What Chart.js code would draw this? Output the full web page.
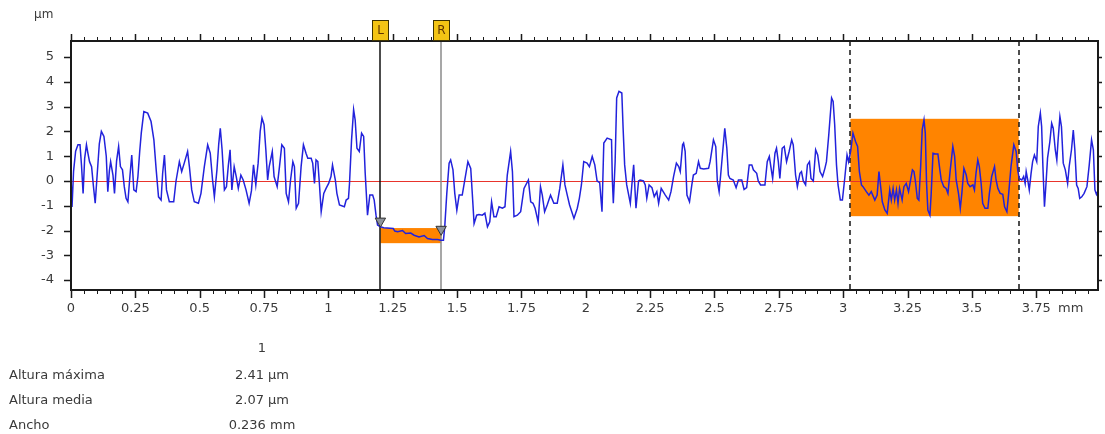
<!DOCTYPE html>
<html><head><meta charset="utf-8">
<script src="https://cdn.jsdelivr.net/npm/chart.js"></script>
<style>
html,body{margin:0;padding:0;background:#fff;}
#wrap{position:relative;width:1105px;height:434px;overflow:hidden;font-family:'DejaVu Sans',sans-serif;color:#3a3a3a;}
canvas{position:absolute;left:0;top:0;}
.t{position:absolute;font-size:13px;line-height:16px;white-space:nowrap;}
.c{text-align:center;width:100px;}
</style></head><body>
<div id="wrap">
<canvas id="c" width="1105" height="434"></canvas>
<div class="t" style="left:34px;top:6px;font-size:12px">µm</div>
<div class="t" id="unitX" style="left:1058px;top:300px;">mm</div>
<div id="tbl"></div>
</div>
<script>
// ---- data (x in mm, height in µm) ----
const profilePoints = [
[0.000,0.20],[0.004,-1.05],[0.010,0.40],[0.018,1.20],[0.027,1.46],[0.035,1.46],[0.041,0.60],[0.047,-0.50],[0.053,0.90],[0.060,1.46],[0.066,1.10],[0.072,0.78],[0.080,0.58],[0.087,-0.20],[0.094,-0.90],[0.102,0.30],[0.110,1.50],[0.118,2.00],[0.128,1.80],[0.137,1.00],[0.143,-0.43],[0.149,0.40],[0.154,0.78],[0.163,0.24],[0.169,-0.50],[0.177,0.80],[0.185,1.39],[0.192,0.58],[0.200,0.45],[0.207,-0.23],[0.214,-0.70],[0.221,-0.84],[0.229,0.20],[0.236,1.05],[0.244,-0.36],[0.253,-0.43],[0.260,0.18],[0.267,1.20],[0.273,1.93],[0.283,2.80],[0.298,2.74],[0.311,2.40],[0.322,1.66],[0.331,0.45],[0.340,-0.64],[0.350,-0.77],[0.356,0.30],[0.363,1.05],[0.371,-0.36],[0.382,-0.84],[0.399,-0.84],[0.408,0.00],[0.421,0.78],[0.430,0.38],[0.440,0.72],[0.453,1.19],[0.460,0.58],[0.469,-0.36],[0.479,-0.84],[0.495,-0.90],[0.505,-0.50],[0.518,0.58],[0.531,1.46],[0.541,1.12],[0.550,0.04],[0.557,-0.64],[0.567,0.45],[0.574,1.50],[0.580,2.13],[0.587,1.26],[0.596,-0.36],[0.604,-0.23],[0.611,0.60],[0.618,1.26],[0.625,-0.36],[0.634,0.58],[0.642,0.18],[0.650,-0.30],[0.660,0.24],[0.669,0.04],[0.680,-0.36],[0.692,-0.90],[0.701,-0.40],[0.709,0.65],[0.718,-0.16],[0.727,0.72],[0.735,2.00],[0.742,2.54],[0.750,2.27],[0.757,1.26],[0.764,0.04],[0.770,0.58],[0.782,1.19],[0.789,0.18],
[0.801,-0.23],[0.810,0.58],[0.819,1.46],[0.829,1.32],[0.836,-0.50],[0.845,-0.84],[0.853,0.04],[0.862,0.78],[0.868,0.58],[0.875,-1.10],[0.884,-0.90],[0.894,0.58],[0.903,1.46],[0.913,1.12],[0.920,0.92],[0.933,0.92],[0.939,0.72],[0.946,-0.10],[0.952,0.85],[0.959,0.78],[0.965,-0.10],[0.972,-1.24],[0.982,-0.50],[0.991,-0.30],[1.001,-0.10],[1.010,0.18],[1.016,0.65],[1.027,0.04],[1.033,-0.50],[1.043,-0.97],[1.062,-1.04],[1.069,-0.77],[1.078,-0.70],[1.082,-0.10],[1.090,1.66],[1.098,2.88],[1.104,2.47],[1.111,1.32],[1.120,1.19],[1.129,1.93],[1.137,1.80],[1.143,0.31],[1.152,-1.38],[1.161,-0.57],[1.172,-0.57],[1.178,-0.77],[1.185,-1.38],[1.191,-1.78],[1.202,-1.85],
[1.215,-1.89],[1.252,-1.92],[1.258,-2.02],[1.269,-2.05],[1.288,-2.00],[1.300,-2.12],[1.320,-2.10],[1.333,-2.19],[1.352,-2.26],[1.372,-2.20],[1.385,-2.32],[1.404,-2.36],[1.424,-2.36],[1.437,-2.39],[1.447,-2.39],[1.452,-1.85],[1.460,-0.50],[1.469,0.72],[1.475,0.85],[1.484,0.45],[1.491,-0.50],[1.499,-1.18],[1.508,-0.57],[1.520,-0.57],[1.530,0.04],[1.542,0.78],[1.553,0.51],[1.559,-0.50],[1.566,-1.72],[1.576,-1.38],[1.585,-1.35],
[1.598,-1.38],[1.608,-1.30],[1.618,-1.85],[1.627,-1.65],[1.634,-0.84],[1.643,-1.44],[1.652,-1.44],[1.663,-1.04],[1.676,-1.10],[1.686,-1.04],[1.695,0.24],[1.708,1.19],[1.715,0.38],[1.721,-1.44],[1.734,-1.38],[1.747,-1.24],[1.760,-0.30],[1.777,0.04],[1.786,-0.84],[1.795,-0.90],[1.803,-1.10],[1.815,-1.65],[1.824,-0.23],[1.831,-0.57],[1.840,-1.24],[1.850,-0.97],[1.863,-0.57],[1.876,-0.90],[1.889,-0.90],[1.899,-0.30],[1.911,0.65],[1.919,-0.16],[1.928,-0.57],[1.937,-0.97],[1.954,-1.51],[1.967,-1.10],[1.975,-0.70],[1.983,-0.16],[1.992,0.78],[2.005,0.72],[2.014,0.58],[2.025,0.99],[2.035,0.65],[2.044,0.00],[2.054,-0.07],[2.063,-1.24],[2.070,1.53],[2.083,1.73],[2.100,1.66],[2.103,0.10],[2.107,-0.90],[2.114,0.78],[2.120,3.35],[2.129,3.62],[2.140,3.55],[2.145,2.13],[2.151,0.65],[2.159,-0.16],[2.173,-0.90],[2.179,-0.16],[2.186,0.65],[2.195,-1.10],[2.205,0.00],[2.211,0.04],[2.224,0.00],[2.231,-0.16],[2.237,-0.70],[2.246,-0.16],[2.257,-0.27],[2.266,-0.63],[2.276,-0.43],[2.283,-0.90],[2.293,-0.30],[2.309,-0.57],[2.322,-0.77],[2.331,-0.43],[2.341,0.18],[2.352,0.72],[2.361,0.58],[2.367,0.38],[2.376,1.46],[2.380,1.53],[2.386,1.20],
[2.393,-0.57],[2.403,-0.84],[2.412,-0.16],[2.418,0.24],[2.429,0.31],[2.438,0.78],[2.445,0.51],[2.458,0.48],[2.477,0.51],[2.483,0.78],[2.496,1.66],[2.505,1.39],[2.511,0.00],[2.518,-0.43],[2.524,0.24],[2.532,1.19],[2.540,2.13],[2.548,1.32],[2.554,0.24],[2.560,0.10],[2.573,0.04],[2.584,-0.27],[2.593,0.04],[2.606,0.04],[2.615,-0.34],[2.625,-0.27],[2.635,0.65],[2.645,0.65],[2.651,0.45],[2.664,0.31],[2.670,0.00],[2.679,-0.16],[2.696,-0.16],[2.705,0.78],[2.713,0.99],[2.720,0.51],[2.726,0.10],[2.735,1.12],[2.741,1.32],[2.748,0.78],[2.754,0.10],[2.763,1.32],[2.771,1.39],[2.780,0.78],[2.790,1.19],[2.800,1.66],[2.806,1.46],[2.815,0.24],[2.822,-0.23],[2.832,0.31],[2.838,0.38],[2.845,0.00],[2.854,-0.16],[2.861,0.65],[2.869,0.78],[2.875,0.10],[2.884,0.00],[2.893,1.26],[2.901,1.05],[2.910,0.38],[2.920,0.18],[2.929,0.51],[2.935,0.78],[2.944,1.86],[2.955,3.35],[2.961,3.21],[2.967,2.27],[2.974,0.65],[2.980,-0.16],[2.989,-0.77],[2.997,-0.77],[3.006,0.10],[3.015,1.05],[3.021,0.78],[3.029,1.19],[3.038,1.93],[3.048,1.59],[3.056,1.39],[3.063,0.38],[3.071,-0.16],[3.077,-0.23],[3.090,-0.43],[3.100,-0.57],[3.109,-0.43],[3.123,-0.77],[3.132,-0.57],[3.139,0.38],[3.146,-0.27],[3.152,-0.84],[3.162,-1.17],[3.171,-1.31],
[3.181,-0.36],[3.187,-0.77],[3.194,-0.30],[3.200,-0.77],[3.207,-0.36],[3.213,-0.90],[3.219,-0.30],[3.229,-0.77],[3.236,-0.23],[3.245,-0.10],[3.254,-0.43],[3.262,0.04],[3.269,0.45],[3.275,0.38],[3.280,0.04],[3.288,-0.70],[3.294,-0.77],[3.301,0.58],[3.307,2.06],[3.314,2.47],[3.319,1.93],[3.324,-0.10],[3.329,-1.17],[3.337,-1.38],[3.342,-0.50],[3.349,1.12],[3.358,1.09],[3.368,1.09],[3.374,0.58],[3.381,0.04],[3.391,-0.23],[3.400,-0.30],[3.407,-0.50],[3.416,0.45],[3.426,1.39],[3.433,0.99],[3.439,0.04],[3.448,-0.50],[3.455,-1.10],[3.461,-0.50],[3.469,0.51],[3.478,0.24],[3.484,-0.10],[3.493,-0.23],[3.504,-0.16],[3.510,-0.36],[3.516,0.31],[3.523,0.85],[3.529,0.58],[3.536,-0.10],[3.542,-0.90],[3.551,-1.10],[3.562,-1.10],[3.568,-0.50],[3.577,0.18],[3.588,0.58],[3.594,0.04],[3.601,-0.30],[3.610,-0.50],[3.620,-0.54],[3.627,-1.04],[3.636,-1.24],[3.643,-0.50],[3.652,0.58],[3.663,1.46],[3.672,1.19],[3.678,0.45],[3.684,0.10],[3.694,0.04],[3.701,0.18],[3.707,-0.10],[3.711,0.38],[3.717,0.04],[3.723,-0.36],[3.730,0.31],[3.736,0.78],[3.743,1.05],[3.752,0.78],[3.758,2.20],[3.766,2.74],[3.771,2.20],[3.776,0.58],[3.782,-1.04],[3.788,-0.10],[3.794,0.92],[3.803,1.59],[3.810,2.33],[3.816,2.13],[3.824,1.26],[3.830,0.85],[3.835,1.66],[3.842,2.60],[3.848,2.20],[3.855,0.72],[3.863,0.45],[3.872,-0.10],[3.878,0.58],[3.887,1.26],[3.894,2.06],[3.900,1.26],[3.907,-0.16],[3.913,-0.30],[3.919,-0.70],[3.927,-0.64],[3.936,-0.50],[3.947,-0.23],[3.956,0.65],[3.965,1.66],[3.972,1.26],[3.978,-0.36],[3.984,-0.54],[3.990,-0.40]
];
const xTickValues = [0,0.25,0.5,0.75,1,1.25,1.5,1.75,2,2.25,2.5,2.75,3,3.25,3.5,3.75];
const xTickLabels = ['0','0.25','0.5','0.75','1','1.25','1.5','1.75','2','2.25','2.5','2.75','3','3.25','3.5','3.75'];
const yTickValues = [-4,-3,-2,-1,0,1,2,3,4,5];
const yTickLabels = ['-4','-3','-2','-1','0','1','2','3','4','5'];
const xRange = [0, 3.99];
const yRange = [-4.4, 5.65];
const cursorL = 1.202, cursorR = 1.438;
const markerPoints = [[1.202,-1.62],[1.438,-1.95]];
const stepBoxX = [1.202, 1.438], stepBoxY = [-2.51, -1.90];
const bandX = [3.028, 3.682], bandY = [-1.42, 2.51];
const tableHeader = '1';
const tableRows = ['Altura máxima','Altura media','Ancho'];
const tableValues = ['2.41 µm','2.07 µm','0.236 mm'];

// ---- table text ----
const tbl = document.getElementById('tbl');
function addText(txt, cls, left, top){ const d=document.createElement('div'); d.className='t '+cls; d.style.left=left+'px'; d.style.top=top+'px'; d.textContent=txt; tbl.appendChild(d); }
addText(tableHeader,'c',212,340);
tableRows.forEach((r,i)=>{ addText(r,'',9,367+i*25); addText(tableValues[i],'c',212,367+i*25); });

const FONT = "'DejaVu Sans', sans-serif";
const decor = {
  id:'decor',
  beforeDatasetsDraw(chart){
    const {ctx, chartArea:a, scales:{x,y}} = chart;
    ctx.save();
    ctx.fillStyle = '#ff8400';
    [[stepBoxX,stepBoxY],[bandX,bandY]].forEach(([bx,by])=>{
      const x0=x.getPixelForValue(bx[0]), x1=x.getPixelForValue(bx[1]);
      const y0=y.getPixelForValue(by[1]), y1=y.getPixelForValue(by[0]);
      ctx.fillRect(x0,y0,x1-x0,y1-y0);
    });
    const z = Math.round(y.getPixelForValue(0))+0.5;
    ctx.strokeStyle='#e8342c'; ctx.lineWidth=1;
    ctx.beginPath(); ctx.moveTo(a.left,z); ctx.lineTo(a.right,z); ctx.stroke();
    ctx.setLineDash([5,4]); ctx.strokeStyle='#151515'; ctx.lineWidth=1.5;
    bandX.forEach(v=>{ const px=Math.round(x.getPixelForValue(v)); ctx.beginPath(); ctx.moveTo(px,a.top); ctx.lineTo(px,a.bottom); ctx.stroke(); });
    ctx.setLineDash([]);
    [[cursorL,'#111111'],[cursorR,'#8a8a8a']].forEach(([v,c])=>{ const px=Math.round(x.getPixelForValue(v)); ctx.strokeStyle=c; ctx.lineWidth=1.5; ctx.beginPath(); ctx.moveTo(px,a.top); ctx.lineTo(px,a.bottom); ctx.stroke(); });
    ctx.restore();
  },
  afterDraw(chart){
    const {ctx, chartArea:a, scales:{x,y}} = chart;
    ctx.save();
    ctx.strokeStyle='#1a1a1a'; ctx.lineWidth=2;
    ctx.strokeRect(a.left,a.top,a.right-a.left,a.bottom-a.top);
    for(let i=0;i<80;i++){
      const v=i*0.05, major=(i%5===0);
      const px=Math.round(x.getPixelForValue(v))+0.5;
      ctx.lineWidth = major?1.5:1;
      ctx.beginPath();
      ctx.moveTo(px,a.top); ctx.lineTo(px,a.top-(major?7:4));
      ctx.moveTo(px,a.bottom); ctx.lineTo(px,a.bottom+(major?8:4));
      ctx.stroke();
    }
    ctx.lineWidth=1.5;
    yTickValues.forEach(v=>{ const py=Math.round(y.getPixelForValue(v))+0.5; ctx.beginPath(); ctx.moveTo(a.left,py); ctx.lineTo(a.left-7,py); ctx.moveTo(a.right,py); ctx.lineTo(a.right+4,py); ctx.stroke(); });
    [['L',cursorL],['R',cursorR]].forEach(([lab,v])=>{
      const px=Math.round(x.getPixelForValue(v));
      ctx.fillStyle='#f3c414'; ctx.fillRect(px-8,a.top-21,17,21);
      ctx.strokeStyle='#3d3200'; ctx.lineWidth=1; ctx.strokeRect(px-7.5,a.top-20.5,16,20);
      ctx.fillStyle='#5e3400'; ctx.font='12px '+FONT; ctx.textAlign='center'; ctx.textBaseline='middle';
      ctx.fillText(lab,px+0.5,a.top-10);
    });
    ctx.restore();
  }
};

Chart.defaults.font.family = FONT;
new Chart(document.getElementById('c'), {
  type:'scatter',
  data:{ datasets:[
    { data: markerPoints.map(p=>({x:p[0],y:p[1]})), pointStyle:'triangle', rotation:180, pointRadius:6, backgroundColor:'#8e939b', borderColor:'#333', borderWidth:1, showLine:false },
    { data: profilePoints.map(p=>({x:p[0],y:p[1]})), showLine:true, borderColor:'#2222dc', borderWidth:1.5, pointRadius:0, tension:0, fill:false }
  ]},
  options:{
    responsive:false, animation:false, devicePixelRatio:1,
    layout:{ padding:{ top:41, right:3, left:0, bottom:0 } },
    plugins:{ legend:{display:false}, tooltip:{enabled:false} },
    scales:{
      x:{ type:'linear', min:xRange[0], max:xRange[1],
          grid:{display:false, drawTicks:false}, border:{display:false},
          afterBuildTicks:s=>{ s.ticks = xTickValues.map(v=>({value:v})); },
          afterFit:s=>{ s.height = 144; s.paddingLeft = 0; s.paddingRight = 0; },
          ticks:{ autoSkip:false, maxRotation:0, padding:11, color:'#3a3a3a', font:{size:13},
                  callback:(v)=>{ const i=xTickValues.indexOf(v); return i>=0?xTickLabels[i]:''; } } },
      y:{ type:'linear', min:yRange[0], max:yRange[1],
          grid:{display:false, drawTicks:false}, border:{display:false},
          afterBuildTicks:s=>{ s.ticks = yTickValues.map(v=>({value:v})); },
          afterFit:s=>{ s.width = 71; s.paddingTop = 0; s.paddingBottom = 0; },
          ticks:{ autoSkip:false, padding:17, color:'#3a3a3a', font:{size:13},
                  callback:(v)=>{ const i=yTickValues.indexOf(v); return i>=0?yTickLabels[i]:''; } } }
    }
  },
  plugins:[decor]
});
</script>
</body></html>
